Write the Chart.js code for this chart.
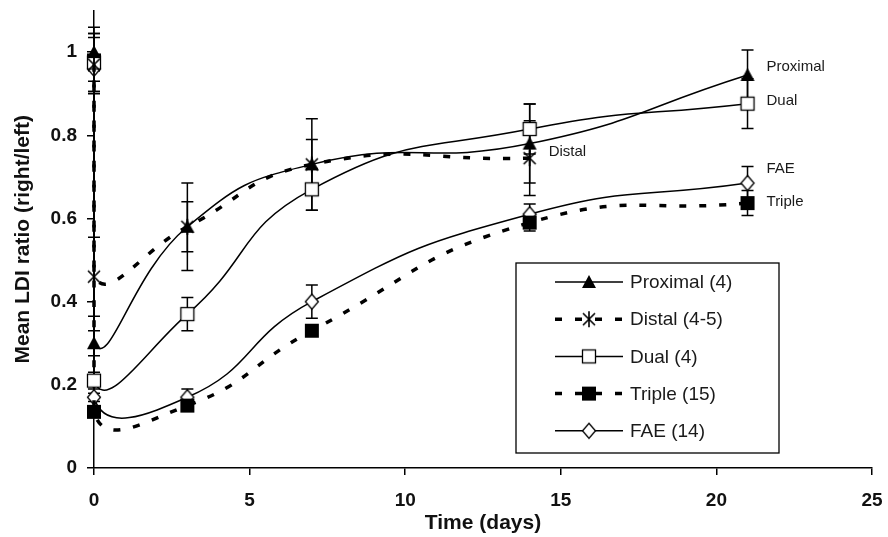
<!DOCTYPE html>
<html>
<head>
<meta charset="utf-8">
<script src="https://cdn.jsdelivr.net/npm/chart.js@4/dist/chart.umd.min.js"></script>
<style>
  html, body { margin: 0; padding: 0; background: #fff; }
  #wrap { width: 888px; height: 537px; }
</style>
</head>
<body>
<div id="wrap"><canvas id="chart" width="888" height="537"></canvas></div>
<script>
// ---- data ----
const days = [0, 0, 3, 7, 14, 21];

const proximal    = [1.0, 0.30, 0.58, 0.73, 0.78, 0.945];
const proximalErr = [0.045, 0.03, 0.105, 0.11, 0.095, 0.06];

const distal    = [0.97, 0.46, 0.58, 0.73, 0.745];
const distalErr = [0.065, 0.095, 0.06, 0.06, 0.09];

const dual    = [0.975, 0.21, 0.37, 0.67, 0.815, 0.876];
const dualErr = [0.07, 0.02, 0.04, 0.05, 0.06, 0.06];

const triple    = [0.98, 0.135, 0.15, 0.33, 0.59, 0.637];
const tripleErr = [0.08, 0.01, 0.01, 0.01, 0.02, 0.03];

const fae    = [0.96, 0.17, 0.17, 0.40, 0.61, 0.685];
const faeErr = [0.03, 0.01, 0.02, 0.04, 0.025, 0.04];

const legendNames = ["Proximal (4)", "Distal (4-5)", "Dual (4)", "Triple (15)", "FAE (14)"];
const endLabels = [
  { text: "Proximal", x: 21, y: 0.965 },
  { text: "Dual", x: 21, y: 0.883 },
  { text: "Distal", x: 14, y: 0.76 },
  { text: "FAE", x: 21, y: 0.72 },
  { text: "Triple", x: 21, y: 0.64 }
];
const yTicks = [0, 0.2, 0.4, 0.6, 0.8, 1];

// ---- marker images ----
function makeMarker(kind) {
  const c = document.createElement("canvas");
  c.width = 18; c.height = 18;
  const g = c.getContext("2d");
  g.strokeStyle = "#000";
  g.fillStyle = "#000";
  g.lineWidth = 1.3;
  if (kind === "triangle") {
    g.beginPath();
    g.moveTo(9, 2); g.lineTo(16, 15); g.lineTo(2, 15); g.closePath();
    g.fill();
  } else if (kind === "star") {
    g.lineWidth = 1.6;
    g.beginPath();
    g.moveTo(3, 3); g.lineTo(15, 15);
    g.moveTo(15, 3); g.lineTo(3, 15);
    g.moveTo(9, 1); g.lineTo(9, 17);
    g.stroke();
  } else if (kind === "square") {
    g.fillStyle = "#fff";
    g.fillRect(2.5, 2.5, 13, 13);
    g.strokeRect(2.5, 2.5, 13, 13);
  } else if (kind === "fsquare") {
    g.fillRect(2, 2, 14, 14);
  } else if (kind === "diamond") {
    g.fillStyle = "#fff";
    g.beginPath();
    g.moveTo(9, 1.5); g.lineTo(15.5, 9); g.lineTo(9, 16.5); g.lineTo(2.5, 9); g.closePath();
    g.fill(); g.stroke();
  }
  return c;
}

const markers = {
  proximal: makeMarker("triangle"),
  distal: makeMarker("star"),
  dual: makeMarker("square"),
  triple: makeMarker("fsquare"),
  fae: makeMarker("diamond")
};

function pts(vals) {
  return vals.map((v, i) => ({ x: days[i], y: v }));
}

function series(label, vals, errs, marker, dashed) {
  return {
    label,
    data: pts(vals),
    errs,
    borderColor: "#000",
    backgroundColor: "#000",
    borderWidth: dashed ? 3.5 : 1.5,
    borderDash: dashed ? [7, 13] : [],
    pointStyle: marker,
    pointRadius: 7,
    pointHoverRadius: 7,
    tension: 0.5,
    clip: false,
    fill: false
  };
}

// ---- plugins ----
const errorBars = {
  id: "errorBars",
  beforeDatasetsDraw(chart) {
    const ctx = chart.ctx;
    const xs = chart.scales.x, ys = chart.scales.y;
    ctx.save();
    ctx.strokeStyle = "#000";
    ctx.lineWidth = 1.5;
    chart.data.datasets.forEach((ds) => {
      ds.data.forEach((p, i) => {
        const e = ds.errs[i];
        if (!e) return;
        const px = xs.getPixelForValue(p.x);
        const top = ys.getPixelForValue(p.y + e);
        const bot = ys.getPixelForValue(p.y - e);
        ctx.beginPath();
        ctx.moveTo(px, top); ctx.lineTo(px, bot);
        ctx.moveTo(px - 6, top); ctx.lineTo(px + 6, top);
        ctx.moveTo(px - 6, bot); ctx.lineTo(px + 6, bot);
        ctx.stroke();
      });
    });
    ctx.restore();
  }
};

const seriesLabels = {
  id: "seriesLabels",
  afterDatasetsDraw(chart) {
    const ctx = chart.ctx;
    const xs = chart.scales.x, ys = chart.scales.y;
    ctx.save();
    ctx.fillStyle = "#1a1a1a";
    ctx.font = "15px 'Liberation Sans', Arial, sans-serif";
    ctx.textBaseline = "middle";
    endLabels.forEach((l) => {
      ctx.fillText(l.text, xs.getPixelForValue(l.x) + 19, ys.getPixelForValue(l.y));
    });
    ctx.restore();
  }
};

const boxLegend = {
  id: "boxLegend",
  afterDraw(chart) {
    const ctx = chart.ctx;
    const left = 516, top = 263, w = 263, h = 190;
    ctx.save();
    ctx.fillStyle = "#fff";
    ctx.fillRect(left, top, w, h);
    ctx.strokeStyle = "#000";
    ctx.lineWidth = 1.3;
    ctx.strokeRect(left, top, w, h);
    ctx.font = "19px 'Liberation Sans', Arial, sans-serif";
    ctx.textBaseline = "middle";
    chart.data.datasets.forEach((ds, i) => {
      const y = top + 19 + i * 37.2;
      ctx.strokeStyle = "#000";
      ctx.lineWidth = ds.borderWidth;
      ctx.setLineDash(ds.borderDash);
      ctx.beginPath();
      ctx.moveTo(555, y); ctx.lineTo(623, y);
      ctx.stroke();
      ctx.setLineDash([]);
      const m = ds.pointStyle;
      ctx.drawImage(m, 589 - m.width / 2, y - m.height / 2);
      ctx.fillStyle = "#1a1a1a";
      ctx.fillText(legendNames[i], 630, y + 1);
    });
    ctx.restore();
  }
};

const tickFont = { family: "'Liberation Sans', Arial, sans-serif", size: 19, weight: "bold" };
const titleFont = { family: "'Liberation Sans', Arial, sans-serif", size: 21, weight: "bold" };

new Chart(document.getElementById("chart"), {
  type: "line",
  data: {
    datasets: [
      series("Proximal", proximal, proximalErr, markers.proximal, false),
      series("Distal", distal, distalErr, markers.distal, true),
      series("Dual", dual, dualErr, markers.dual, false),
      series("Triple", triple, tripleErr, markers.triple, true),
      series("FAE", fae, faeErr, markers.fae, false)
    ]
  },
  options: {
    responsive: false,
    animation: false,
    events: [],
    layout: { padding: { top: 10, right: 16, left: 0, bottom: 0 } },
    plugins: {
      legend: { display: false },
      tooltip: { enabled: false }
    },
    scales: {
      x: {
        type: "linear",
        min: 0,
        max: 25,
        ticks: { stepSize: 5, color: "#111", font: tickFont, padding: 14, maxRotation: 0 },
        grid: { drawOnChartArea: false, drawTicks: true, tickLength: 7, color: "#000", lineWidth: 1.5 },
        border: { color: "#000", width: 1.5 },
        title: { display: true, text: "Time (days)", color: "#111", font: titleFont, padding: { top: 0, bottom: 1 } },
        afterFit(scale) {
          scale.height = 69;
          scale.paddingLeft = 0;
          scale.paddingRight = 0;
        }
      },
      y: {
        min: 0,
        max: 1.1,
        afterBuildTicks(scale) { scale.ticks = yTicks.map((v) => ({ value: v })); },
        ticks: {
          color: "#111",
          font: tickFont,
          padding: 10,
          callback: (v) => String(Math.round(v * 10) / 10)
        },
        grid: { drawOnChartArea: false, drawTicks: true, tickLength: 7, color: "#000", lineWidth: 1.5 },
        border: { color: "#000", width: 1.5 },
        title: { display: true, text: "Mean LDI ratio (right/left)", color: "#111", font: titleFont, padding: { top: 11, bottom: 0 } },
        afterFit(scale) {
          scale.width = 94;
          scale.paddingTop = 0;
          scale.paddingBottom = 0;
        }
      }
    }
  },
  plugins: [errorBars, seriesLabels, boxLegend]
});
</script>
</body>
</html>
